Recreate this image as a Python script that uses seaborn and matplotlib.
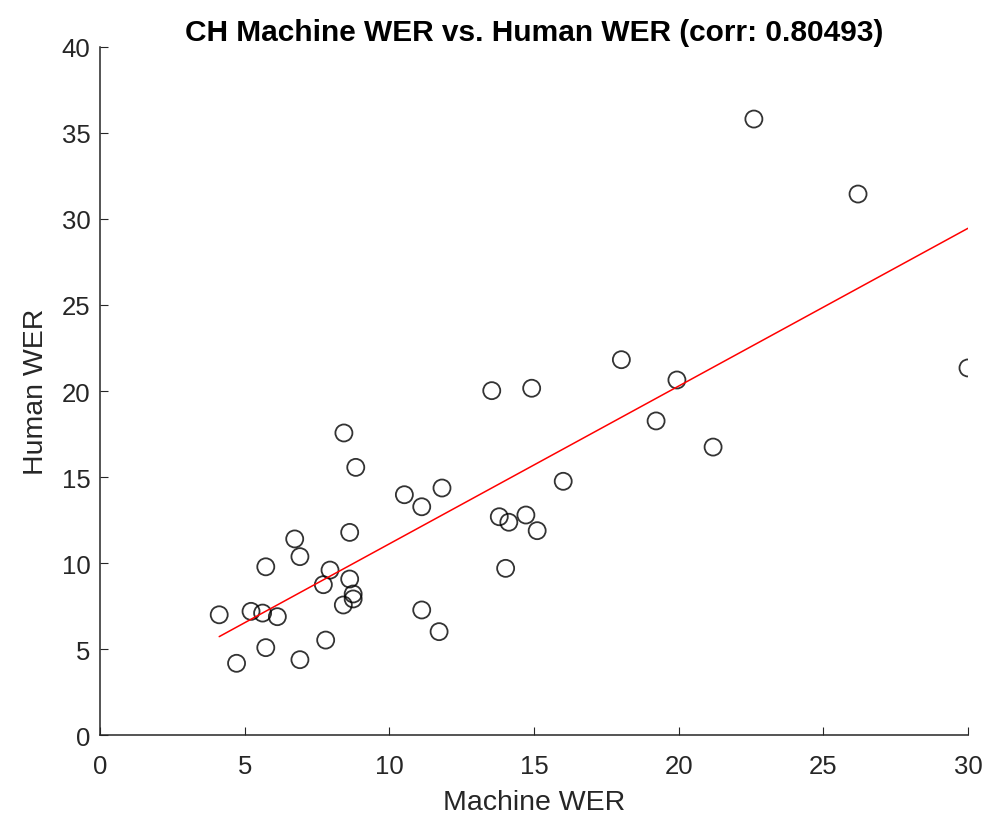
import numpy as np
import pandas as pd
import matplotlib
matplotlib.use("Agg")
import matplotlib.pyplot as plt
import seaborn as sns

machine_wer = [8.43, 8.84, 10.52, 11.12, 11.82, 8.63, 6.73, 6.91, 5.73, 7.95,
               8.63, 7.72, 8.75, 8.75, 8.41, 4.12, 5.22, 5.62, 6.13, 11.12,
               11.72, 5.73, 7.80, 4.72, 6.91, 18.02, 13.54, 14.92, 19.94, 19.22,
               16.01, 13.80, 14.13, 14.72, 15.11, 14.02, 22.60, 26.20, 30.00, 21.19]
human_wer = [17.56, 15.56, 13.97, 13.27, 14.36, 11.78, 11.40, 10.37, 9.78, 9.59,
             9.07, 8.74, 8.20, 7.91, 7.56, 6.99, 7.19, 7.09, 6.88, 7.27,
             6.01, 5.08, 5.52, 4.17, 4.38, 21.82, 20.02, 20.16, 20.64, 18.26,
             14.75, 12.69, 12.37, 12.79, 11.88, 9.69, 35.81, 31.45, 21.34, 16.74]

title = "CH Machine WER vs. Human WER (corr: 0.80493)"
xticks = [0, 5, 10, 15, 20, 25, 30]
yticks = [0, 5, 10, 15, 20, 25, 30, 35, 40]

df = pd.DataFrame({"Machine WER": machine_wer, "Human WER": human_wer})

sns.set_theme(style="ticks")
plt.rcParams["font.family"] = ["Liberation Sans", "DejaVu Sans"]
axc = "#262626"

fig = plt.figure(figsize=(9.97, 8.2), dpi=100)
ax = fig.add_axes([0.1003, 0.1024, 0.8706, 0.8391])

sns.regplot(data=df, x="Machine WER", y="Human WER", ax=ax, ci=None, truncate=True,
            marker="o",
            scatter_kws=dict(s=150, facecolors="none", edgecolors="black", linewidths=1.3),
            line_kws=dict(color="red", lw=1.1))

ax.set_xlim(0, 30)
ax.set_ylim(0, 40)
ax.set_xticks(xticks)
ax.set_yticks(yticks)
ax.tick_params(direction="in", length=6, width=0.8, colors=axc, labelsize=18.5)
ax.tick_params(axis="x", pad=13.5)
ax.tick_params(axis="y", pad=7)
for s in ["top", "right"]:
    ax.spines[s].set_visible(False)
for s in ["left", "bottom"]:
    ax.spines[s].set_color(axc)
    ax.spines[s].set_linewidth(1.1)
ax.set_xlabel("Machine WER", fontsize=20.5, color=axc, labelpad=8)
ax.set_ylabel("Human WER", fontsize=20.5, color=axc, labelpad=9)
ax.set_title(title, fontsize=21.5, fontweight="bold", color="black", pad=5)

fig.savefig("out.png", dpi=100)
